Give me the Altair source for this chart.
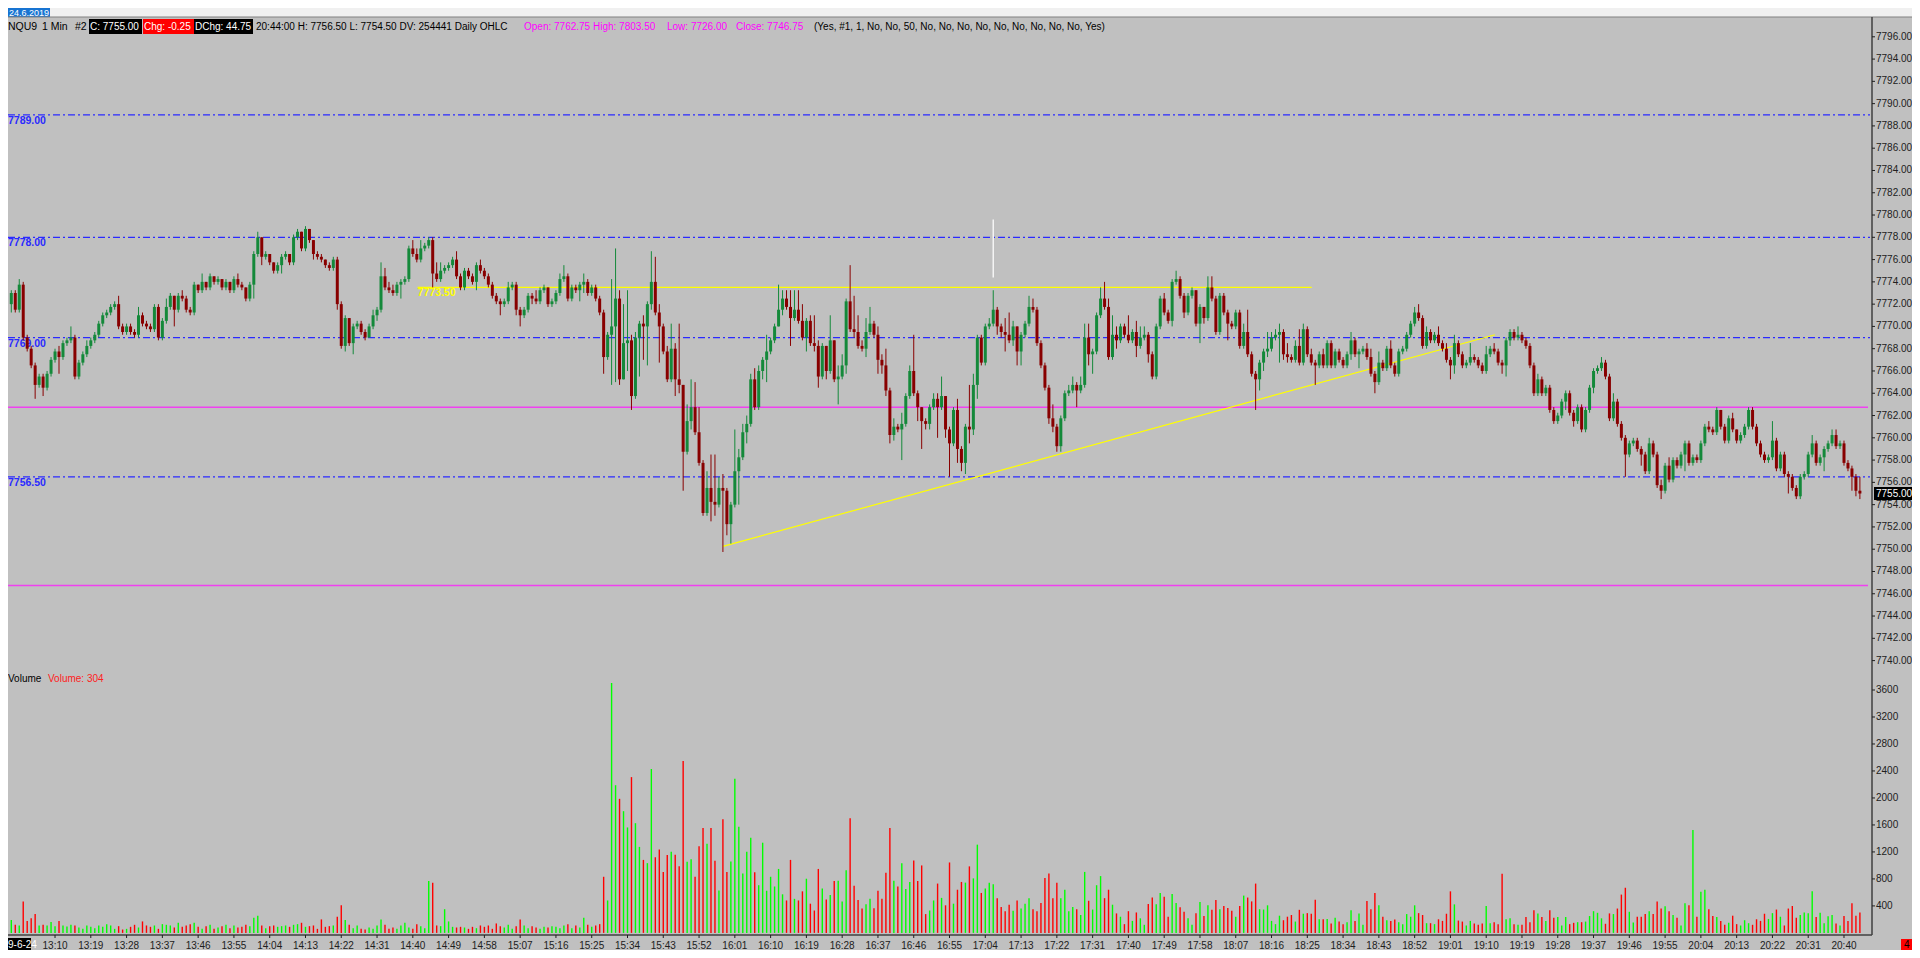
import altair as alt
import pandas as pd

# ---------------- data (NQU9, 1 min bars, 12:59 .. 20:44) ----------------
first_open = 7772.0

closes = [
    7773.0, 7771.5, 7773.75, 7769.0, 7768.0, 7766.5, 7764.75, 7765.5, 7764.5, 7765.75,
    7767.0, 7767.75, 7767.25, 7768.5, 7768.75, 7769.0, 7765.5, 7766.75, 7767.5, 7768.25,
    7768.75, 7769.25, 7770.25, 7771.0, 7771.25, 7771.75, 7772.0, 7770.0, 7769.5, 7770.0,
    7769.5, 7769.25, 7771.0, 7770.25, 7770.0, 7769.75, 7771.75, 7769.0, 7770.5, 7771.75,
    7772.75, 7771.5, 7772.75, 7772.5, 7771.5, 7771.25, 7773.75, 7773.25, 7774.0, 7773.5,
    7774.5, 7774.0, 7774.25, 7773.5, 7774.0, 7773.25, 7774.25, 7773.75, 7773.5, 7772.5,
    7773.75, 7776.5, 7778.0, 7776.25, 7776.5, 7775.75, 7775.0, 7775.5, 7776.25, 7776.5,
    7775.75, 7778.0, 7778.5, 7777.0, 7778.75, 7777.75, 7776.5, 7776.25, 7776.0, 7775.5,
    7775.25, 7776.0, 7772.0, 7768.25, 7770.75, 7768.5, 7770.0, 7770.25, 7769.5, 7769.0,
    7770.0, 7771.0, 7771.5, 7774.5, 7773.5, 7773.25, 7773.0, 7773.75, 7774.0, 7774.25,
    7777.0, 7776.5, 7776.0, 7777.0, 7777.25, 7777.75, 7774.75, 7774.25, 7775.0, 7775.25,
    7775.5, 7776.0, 7774.5, 7773.5, 7775.0, 7774.5, 7774.0, 7775.5, 7775.0, 7774.5,
    7773.75, 7772.75, 7772.25, 7772.0, 7772.25, 7773.5, 7773.75, 7771.5, 7771.0, 7771.5,
    7772.75, 7772.5, 7772.25, 7773.25, 7773.5, 7772.0, 7772.25, 7773.0, 7774.25, 7774.5,
    7772.5, 7773.5, 7773.25, 7773.75, 7774.0, 7773.0, 7773.5, 7772.5, 7771.25, 7767.25,
    7769.25, 7770.0, 7772.5, 7765.25, 7768.5, 7768.75, 7763.75, 7769.0, 7770.25, 7770.0,
    7772.0, 7774.0, 7771.25, 7770.0, 7767.75, 7765.25, 7768.0, 7765.25, 7764.75, 7758.75,
    7761.5, 7762.75, 7760.5, 7757.75, 7753.25, 7755.5, 7754.25, 7754.0, 7755.5, 7755.25,
    7752.25, 7754.0, 7757.0, 7758.25, 7760.5, 7761.25, 7765.25, 7762.75, 7766.0, 7767.0,
    7767.75, 7768.75, 7770.0, 7771.5, 7772.5, 7771.75, 7770.75, 7771.5, 7770.5, 7769.0,
    7770.5, 7768.5, 7768.25, 7765.5, 7768.25, 7766.0, 7768.75, 7765.25, 7765.5, 7766.5,
    7772.25, 7769.75, 7769.5, 7768.25, 7768.0, 7769.5, 7770.25, 7769.25, 7767.0, 7766.5,
    7764.25, 7760.25, 7761.0, 7760.75, 7761.25, 7763.75, 7766.0, 7764.0, 7762.75, 7761.5,
    7761.25, 7762.75, 7763.5, 7762.75, 7763.75, 7760.75, 7759.5, 7762.5, 7759.0, 7757.75,
    7761.0, 7760.75, 7764.75, 7769.0, 7766.75, 7770.0, 7770.25, 7771.5, 7770.0, 7769.5,
    7769.25, 7768.75, 7770.0, 7767.75, 7769.25, 7770.25, 7771.75, 7771.5, 7768.5, 7766.5,
    7764.5, 7761.75, 7761.0, 7759.25, 7761.75, 7764.0, 7764.25, 7764.75, 7764.25, 7764.75,
    7769.0, 7767.5, 7767.75, 7771.0, 7772.5, 7771.75, 7767.25, 7769.25, 7768.75, 7770.0,
    7769.25, 7768.75, 7769.5, 7768.25, 7769.0, 7769.25, 7767.5, 7765.5, 7770.0, 7772.5,
    7771.25, 7770.5, 7774.0, 7774.25, 7772.75, 7771.25, 7772.75, 7773.25, 7770.25, 7771.75,
    7770.75, 7773.5, 7772.5, 7769.5, 7772.75, 7771.25, 7770.25, 7770.0, 7771.25, 7768.25,
    7769.5, 7767.5, 7765.75, 7765.25, 7766.75, 7767.75, 7768.0, 7769.0, 7769.25, 7769.5,
    7767.5, 7767.25, 7767.0, 7768.25, 7766.75, 7769.75, 7767.5, 7766.75, 7766.5, 7767.5,
    7766.5, 7768.5, 7766.5, 7767.75, 7767.0, 7766.5, 7767.5, 7768.75, 7767.5, 7767.75,
    7768.0, 7767.25, 7765.75, 7765.0, 7766.75, 7766.25, 7768.0, 7766.5, 7765.75, 7767.75,
    7768.0, 7769.25, 7770.25, 7771.25, 7770.75, 7768.25, 7769.5, 7768.75, 7769.25, 7768.5,
    7768.0, 7767.0, 7766.5, 7768.5, 7767.5, 7766.5, 7766.75, 7767.25, 7767.0, 7766.5,
    7766.0, 7767.5, 7768.0, 7767.75, 7766.75, 7766.5, 7768.75, 7769.5, 7769.0, 7769.25,
    7768.75, 7768.25, 7766.5, 7764.0, 7765.25, 7764.0, 7764.5, 7762.5, 7761.5, 7762.0,
    7763.25, 7764.0, 7762.25, 7761.5, 7762.75, 7760.75, 7762.5, 7764.5, 7766.0, 7766.25,
    7766.75, 7765.5, 7761.75, 7763.25, 7761.25, 7760.0, 7758.5, 7759.5, 7759.75, 7759.0,
    7758.5, 7757.0, 7759.5, 7758.5, 7755.75, 7755.25, 7757.5, 7756.25, 7758.0, 7757.5,
    7758.5, 7759.5, 7757.75, 7758.25, 7758.0, 7759.5, 7761.0, 7760.75, 7760.5, 7762.5,
    7761.0, 7759.75, 7761.75, 7760.75, 7759.75, 7760.25, 7761.0, 7762.5, 7761.0, 7759.5,
    7758.5, 7758.0, 7758.25, 7759.75, 7757.25, 7758.5, 7756.75, 7756.5, 7755.5, 7754.75,
    7756.5, 7756.75, 7758.5, 7759.5, 7757.75, 7758.25, 7759.0, 7759.5, 7760.25, 7759.25,
    7759.5, 7757.75, 7757.25, 7756.5, 7755.25, 7755.0,
]

highs = [
    7773.25, 7773.25, 7774.25, 7774.0, 7769.25, 7768.25, 7766.75, 7765.75, 7765.75, 7766.0,
    7767.25, 7768.0, 7768.25, 7768.75, 7769.0, 7770.0, 7769.25, 7767.0, 7767.75, 7768.75,
    7769.0, 7769.5, 7770.5, 7771.25, 7771.5, 7772.0, 7772.25, 7772.75, 7770.25, 7770.25,
    7770.25, 7769.75, 7771.75, 7771.25, 7770.5, 7770.25, 7772.0, 7772.0, 7770.75, 7772.5,
    7773.0, 7772.75, 7773.0, 7773.25, 7772.75, 7771.75, 7774.0, 7773.75, 7774.75, 7774.0,
    7774.75, 7774.5, 7774.5, 7774.25, 7774.25, 7774.0, 7774.5, 7774.75, 7774.0, 7773.5,
    7774.0, 7776.75, 7778.5, 7777.5, 7776.75, 7776.5, 7775.75, 7775.75, 7776.5, 7776.75,
    7776.5, 7778.25, 7778.75, 7778.5, 7779.0, 7778.75, 7777.75, 7776.75, 7776.5, 7776.0,
    7775.75, 7776.25, 7776.25, 7772.25, 7771.0, 7770.75, 7770.25, 7770.5, 7770.5, 7769.75,
    7770.25, 7771.5, 7771.75, 7775.75, 7775.25, 7774.0, 7773.75, 7774.0, 7774.25, 7774.5,
    7777.25, 7777.75, 7777.0, 7777.75, 7777.5, 7778.0, 7778.0, 7775.75, 7775.75, 7775.5,
    7775.75, 7776.25, 7776.75, 7774.75, 7775.25, 7775.25, 7774.75, 7775.75, 7776.0, 7775.25,
    7774.75, 7774.0, 7773.0, 7772.5, 7772.5, 7774.0, 7774.0, 7774.0, 7771.75, 7771.75,
    7773.0, 7773.0, 7773.25, 7773.5, 7773.75, 7773.5, 7772.5, 7773.25, 7774.75, 7775.5,
    7774.75, 7773.75, 7773.75, 7774.0, 7774.75, 7774.25, 7773.75, 7773.75, 7772.75, 7771.5,
    7769.5, 7774.25, 7777.0, 7773.25, 7772.0, 7773.25, 7769.25, 7769.5, 7770.5, 7771.0,
    7772.25, 7776.75, 7776.25, 7772.0, 7770.25, 7768.25, 7770.25, 7768.5, 7770.25, 7764.75,
    7763.0, 7765.25, 7765.0, 7762.75, 7758.0, 7757.0, 7758.5, 7758.5, 7756.5, 7756.75,
    7755.5, 7754.25, 7760.75, 7759.0, 7761.25, 7762.0, 7765.75, 7766.25, 7766.5, 7767.25,
    7769.25, 7769.0, 7770.25, 7773.75, 7773.25, 7773.25, 7773.25, 7773.25, 7773.25, 7772.0,
    7770.75, 7771.0, 7771.0, 7768.75, 7768.5, 7767.5, 7771.0, 7768.75, 7766.5, 7767.5,
    7772.5, 7775.5, 7772.75, 7771.0, 7768.75, 7770.75, 7771.75, 7770.5, 7770.0, 7767.5,
    7768.0, 7764.5, 7761.75, 7761.25, 7762.25, 7764.0, 7766.5, 7769.25, 7764.25, 7762.75,
    7761.75, 7763.0, 7764.0, 7764.0, 7765.5, 7763.75, 7761.0, 7762.75, 7763.5, 7759.25,
    7761.25, 7764.75, 7765.75, 7769.25, 7769.25, 7770.25, 7770.75, 7773.25, 7771.75, 7770.25,
    7770.75, 7771.25, 7770.5, 7770.0, 7769.5, 7770.5, 7772.75, 7772.5, 7771.75, 7768.75,
    7766.75, 7764.75, 7763.0, 7761.25, 7762.0, 7764.25, 7764.75, 7765.5, 7765.0, 7765.5,
    7770.25, 7770.25, 7768.0, 7771.25, 7773.5, 7774.0, 7772.5, 7771.0, 7770.0, 7770.25,
    7770.25, 7771.0, 7769.75, 7770.5, 7770.0, 7770.0, 7769.5, 7767.75, 7770.25, 7772.75,
    7773.0, 7771.5, 7774.25, 7775.0, 7774.5, 7773.0, 7773.0, 7773.5, 7773.25, 7772.0,
    7771.75, 7774.5, 7774.5, 7772.75, 7773.0, 7773.0, 7771.5, 7770.5, 7771.5, 7771.5,
    7770.25, 7771.5, 7767.75, 7766.0, 7767.0, 7768.0, 7769.5, 7769.5, 7769.75, 7770.25,
    7769.75, 7768.5, 7767.5, 7768.75, 7769.75, 7770.25, 7770.0, 7768.0, 7767.0, 7767.75,
    7768.0, 7768.75, 7768.75, 7768.0, 7768.0, 7767.25, 7767.75, 7769.5, 7769.0, 7768.0,
    7768.25, 7768.5, 7768.0, 7766.0, 7767.75, 7767.0, 7768.25, 7768.75, 7766.75, 7768.0,
    7768.25, 7769.5, 7770.5, 7771.75, 7772.0, 7771.0, 7770.0, 7769.75, 7769.5, 7770.0,
    7768.75, 7768.5, 7767.25, 7769.25, 7768.75, 7767.75, 7767.0, 7768.5, 7767.5, 7767.25,
    7766.75, 7768.25, 7768.25, 7768.5, 7768.0, 7767.0, 7769.0, 7769.75, 7769.75, 7770.0,
    7769.5, 7769.0, 7768.5, 7766.75, 7765.75, 7765.5, 7764.75, 7764.75, 7762.75, 7762.25,
    7763.5, 7764.25, 7764.25, 7762.5, 7763.0, 7763.0, 7762.75, 7764.75, 7766.25, 7766.5,
    7767.25, 7767.0, 7765.75, 7764.0, 7763.5, 7761.5, 7760.25, 7759.75, 7760.0, 7760.0,
    7759.25, 7758.75, 7760.0, 7759.75, 7758.75, 7756.25, 7757.75, 7758.25, 7758.25, 7758.25,
    7758.75, 7759.75, 7759.75, 7758.5, 7758.5, 7759.75, 7761.25, 7761.5, 7761.0, 7762.75,
    7762.5, 7761.25, 7762.0, 7762.25, 7760.75, 7760.5, 7761.25, 7762.75, 7762.75, 7761.25,
    7759.75, 7758.75, 7758.5, 7761.5, 7760.0, 7758.75, 7758.75, 7757.0, 7756.75, 7755.75,
    7756.75, 7757.0, 7758.75, 7760.25, 7759.75, 7758.5, 7759.25, 7759.75, 7760.75, 7760.75,
    7759.75, 7759.75, 7758.0, 7757.5, 7756.75, 7756.5,
]

lows = [
    7771.25, 7771.25, 7771.25, 7768.75, 7767.75, 7766.25, 7763.5, 7764.5, 7763.75, 7764.25,
    7765.5, 7766.75, 7765.75, 7767.0, 7768.25, 7768.5, 7765.25, 7765.25, 7766.5, 7767.25,
    7768.0, 7768.5, 7769.0, 7770.0, 7770.75, 7771.0, 7771.5, 7769.75, 7769.25, 7769.25,
    7769.25, 7769.0, 7769.0, 7770.0, 7769.75, 7769.5, 7769.5, 7768.75, 7768.75, 7770.25,
    7771.5, 7770.0, 7771.25, 7772.25, 7771.25, 7771.0, 7771.0, 7773.0, 7773.0, 7773.25,
    7773.25, 7773.75, 7773.75, 7773.25, 7773.25, 7773.0, 7773.0, 7773.5, 7773.25, 7772.25,
    7772.25, 7772.5, 7776.25, 7775.5, 7776.0, 7775.5, 7774.75, 7774.75, 7774.75, 7776.0,
    7775.5, 7775.5, 7777.75, 7776.75, 7776.75, 7777.5, 7776.0, 7776.0, 7775.75, 7775.25,
    7775.0, 7775.0, 7771.5, 7768.0, 7767.75, 7768.25, 7767.5, 7769.75, 7769.25, 7768.75,
    7769.0, 7769.75, 7770.5, 7771.25, 7773.25, 7773.0, 7772.75, 7772.75, 7772.5, 7773.75,
    7774.0, 7776.25, 7775.75, 7775.75, 7776.75, 7777.0, 7773.5, 7774.0, 7774.0, 7774.75,
    7775.0, 7775.25, 7774.25, 7773.25, 7773.25, 7774.25, 7773.75, 7773.25, 7774.75, 7774.25,
    7773.5, 7772.5, 7772.0, 7771.0, 7771.75, 7772.0, 7773.25, 7771.0, 7770.0, 7770.75,
    7771.25, 7772.0, 7772.0, 7772.0, 7773.0, 7771.75, 7771.75, 7772.0, 7772.75, 7774.0,
    7772.25, 7772.25, 7773.0, 7772.25, 7773.0, 7772.75, 7772.75, 7772.25, 7771.0, 7765.75,
    7767.0, 7764.75, 7765.0, 7764.75, 7765.25, 7766.0, 7762.5, 7763.5, 7765.5, 7767.0,
    7766.5, 7771.5, 7771.0, 7766.75, 7767.5, 7765.0, 7765.0, 7763.75, 7764.0, 7755.25,
    7758.5, 7760.75, 7760.25, 7757.5, 7753.0, 7753.0, 7752.5, 7753.0, 7753.75, 7749.75,
    7751.25, 7750.5, 7753.75, 7754.0, 7758.0, 7759.5, 7761.0, 7762.5, 7762.5, 7765.25,
    7765.0, 7767.5, 7768.5, 7770.0, 7771.0, 7771.5, 7768.25, 7770.5, 7770.25, 7768.75,
    7767.75, 7768.25, 7767.75, 7764.5, 7765.25, 7765.25, 7765.75, 7765.0, 7763.0, 7765.25,
    7765.75, 7769.5, 7769.0, 7768.0, 7767.75, 7767.25, 7769.25, 7769.0, 7765.75, 7765.75,
    7763.75, 7759.5, 7759.75, 7760.5, 7758.0, 7761.0, 7763.5, 7763.75, 7761.5, 7759.0,
    7760.75, 7760.75, 7762.5, 7760.0, 7762.5, 7760.0, 7756.5, 7759.25, 7757.75, 7757.0,
    7756.75, 7759.5, 7760.25, 7763.5, 7766.5, 7766.5, 7769.75, 7770.0, 7769.25, 7769.0,
    7767.75, 7768.5, 7768.25, 7766.5, 7766.5, 7769.0, 7770.0, 7771.25, 7768.25, 7766.25,
    7764.25, 7761.25, 7760.5, 7758.75, 7758.75, 7761.5, 7763.75, 7764.0, 7762.75, 7764.0,
    7764.5, 7766.5, 7765.75, 7767.5, 7770.75, 7771.5, 7767.0, 7767.0, 7768.0, 7768.5,
    7769.0, 7768.5, 7768.5, 7767.25, 7768.0, 7768.75, 7766.75, 7765.25, 7765.25, 7769.75,
    7771.0, 7770.25, 7770.0, 7773.75, 7772.5, 7770.75, 7771.0, 7772.5, 7770.0, 7768.5,
    7770.25, 7770.5, 7772.25, 7769.25, 7769.25, 7771.0, 7768.75, 7769.75, 7769.75, 7768.0,
    7768.0, 7767.25, 7765.5, 7762.5, 7764.25, 7766.0, 7767.25, 7767.75, 7768.75, 7766.75,
    7767.0, 7766.75, 7766.75, 7766.75, 7766.5, 7766.5, 7767.25, 7766.5, 7764.75, 7766.25,
    7766.25, 7766.25, 7766.25, 7766.25, 7766.75, 7766.25, 7766.25, 7767.0, 7767.25, 7766.25,
    7767.5, 7767.0, 7765.5, 7764.0, 7764.75, 7766.0, 7766.0, 7766.25, 7765.5, 7765.5,
    7767.5, 7767.75, 7769.0, 7770.0, 7770.5, 7768.0, 7768.0, 7768.5, 7768.5, 7768.25,
    7767.75, 7766.75, 7765.25, 7765.75, 7767.25, 7766.25, 7766.25, 7766.5, 7766.75, 7766.25,
    7765.75, 7765.75, 7767.25, 7767.5, 7766.5, 7765.75, 7765.5, 7768.25, 7768.75, 7768.75,
    7768.5, 7768.0, 7766.25, 7763.75, 7763.75, 7763.75, 7763.75, 7762.25, 7761.25, 7761.25,
    7761.75, 7762.5, 7762.0, 7761.0, 7761.25, 7760.5, 7760.5, 7762.25, 7764.0, 7765.75,
    7766.0, 7765.25, 7761.5, 7761.5, 7761.0, 7759.75, 7756.5, 7758.25, 7759.25, 7758.75,
    7757.5, 7756.75, 7756.75, 7758.25, 7755.5, 7754.5, 7755.0, 7756.0, 7756.0, 7757.25,
    7757.25, 7757.0, 7757.5, 7757.5, 7757.75, 7757.75, 7759.25, 7760.5, 7760.25, 7760.25,
    7760.75, 7759.5, 7759.5, 7760.5, 7759.5, 7759.5, 7760.0, 7760.75, 7760.75, 7759.25,
    7758.25, 7757.75, 7757.75, 7758.0, 7757.0, 7757.0, 7756.5, 7755.0, 7755.25, 7754.5,
    7754.5, 7756.25, 7756.5, 7758.25, 7757.5, 7757.5, 7757.0, 7758.75, 7759.25, 7759.0,
    7759.0, 7757.5, 7757.0, 7755.25, 7754.75, 7754.5,
]

volumes = [
    190, 120, 110, 467, 178, 216, 280, 110, 120, 110,
    160, 100, 178, 110, 96, 120, 110, 80, 60, 110,
    90, 70, 110, 90, 130, 110, 60, 100, 50, 60,
    90, 120, 80, 170, 110, 90, 110, 60, 130, 120,
    110, 80, 150, 90, 110, 130, 150, 90, 60, 100,
    120, 60, 80, 100, 120, 70, 110, 80, 90, 120,
    100, 226, 255, 110, 70, 100, 110, 90, 100, 110,
    90, 120, 130, 150, 90, 100, 110, 60, 200, 90,
    100, 110, 240, 409, 190, 120, 70, 110, 60, 50,
    80, 60, 110, 200, 120, 60, 80, 60, 110, 150,
    80, 60, 130, 100, 70, 770, 745, 110, 100, 351,
    170, 90, 80, 90, 80, 60, 90, 70, 110, 90,
    110, 60, 140, 100, 80, 120, 60, 100, 200, 110,
    70, 100, 80, 60, 90, 80, 100, 90, 70, 110,
    130, 70, 110, 80, 226, 120, 90, 110, 130,
    832, 481, 3704, 2189, 1987, 1804, 1563, 2309, 1626, 1275,
    1082, 1034, 2429, 1121, 1236, 904, 1154, 1203, 1159, 986,
    2549, 1053, 1092, 832, 1284, 1554, 1323, 1554, 1068, 630,
    1684, 904, 1058, 2285, 1573, 880, 1203, 1409, 900, 707,
    1337, 625, 832, 688, 948, 572, 481, 1082, 505, 481,
    616, 803, 433, 332, 948, 659, 495, 563, 770, 774,
    467, 928, 1698, 697, 486, 361, 423, 505, 366, 625,
    505, 890, 1554, 774, 688, 1034, 649, 755, 1073, 770,
    1000, 279, 332, 481, 731,
    519, 409, 1044, 433, 640, 755, 745, 986, 808, 1308,
    592, 659, 745, 722, 515, 385, 322, 418, 327, 481,
    361, 433, 515, 351, 322, 443, 813, 880, 515, 745,
    515, 640, 322, 385, 351, 265, 904, 476, 346, 707,
    842, 515, 640, 418, 289, 240, 130, 322, 178, 303,
    216, 120, 428, 524, 423, 592, 534, 240, 577, 443,
    380, 313, 216, 120, 293, 457, 250, 409, 342, 486,
    351, 399, 370, 327, 240, 399, 553, 524, 467, 731,
    351, 346, 409, 178, 130, 255, 188, 240, 265, 168,
    342, 284, 293, 284, 491, 202, 202, 207, 140, 226,
    168, 130, 159, 337, 178, 289, 120, 471, 351, 592,
    409, 240, 188, 178, 197, 159, 130, 279, 240, 409,
    293, 265, 144, 144, 130, 202, 178, 284, 616, 423,
    183, 168, 110, 178, 140, 120, 140, 399, 144, 159,
    130, 875, 202, 216, 130, 120, 120, 236, 159, 337,
    289, 236, 178, 337, 226, 236, 110, 236, 130, 149,
    159, 159, 168, 250, 322, 298, 216, 135, 289, 279,
    361, 568, 669, 313, 154, 240, 240, 279, 322, 279,
    467, 361, 394, 322, 265, 226, 110, 438, 409, 1525,
    240, 611, 640, 351, 250, 236, 178, 120, 149, 255,
    130, 110, 188, 144, 120, 202, 178, 284, 207, 293,
    346, 240, 110, 361, 399, 226, 265, 303, 293, 616,
    236, 298, 144, 245, 265, 140, 110, 250, 178, 438,
    255, 304,
]

session_start = "12:59"
time_labels = [
    "13:10", "13:19", "13:28", "13:37", "13:46", "13:55", "14:04", "14:13", "14:22", "14:31",
    "14:40", "14:49", "14:58", "15:07", "15:16", "15:25", "15:34", "15:43", "15:52", "16:01",
    "16:10", "16:19", "16:28", "16:37", "16:46", "16:55", "17:04", "17:13", "17:22", "17:31",
    "17:40", "17:49", "17:58", "18:07", "18:16", "18:25", "18:34", "18:43", "18:52", "19:01",
    "19:10", "19:19", "19:28", "19:37", "19:46", "19:55", "20:04", "20:13", "20:22", "20:31",
    "20:40",
]

price_ticks = [7740, 7742, 7744, 7746, 7748, 7750, 7752, 7754, 7756, 7758, 7760, 7762, 7764,
               7766, 7768, 7770, 7772, 7774, 7776, 7778, 7780, 7782, 7784, 7786, 7788, 7790,
               7792, 7794, 7796]
volume_ticks = [400, 800, 1200, 1600, 2000, 2400, 2800, 3200, 3600]

blue_levels = [7789.0, 7778.0, 7769.0, 7756.5]
magenta_levels = [7762.75, 7746.75]
yellow_level = 7773.5
yellow_from_bar, yellow_to_bar = 102.2, 327.1
trend_bars = [179.0, 373.2]
trend_prices = [7750.25, 7769.25]
marker_bar, marker_lo, marker_hi = 247.0, 7774.4, 7779.6
last_price = 7755.0

# ---------------- layout helpers ----------------
FONT = "Liberation Sans"
W, H = 1904, 942
AXIS_X = 1864
UP_C, DN_C = "#14893a", "#880000"
VUP_C, VDN_C = "#00ff00", "#ff0000"
BLUE = "#2a2aff"

n = min(len(closes), len(highs), len(lows), len(volumes))
cl = closes[:n]
op = [first_open] + cl[:-1]
hi = [max(h, o, c) for h, o, c in zip(highs[:n], op, cl)]
lo = [min(l, o, c) for l, o, c in zip(lows[:n], op, cl)]
up = [c >= o for o, c in zip(op, cl)]
df = pd.DataFrame({
    "i": list(range(n)), "o": op, "h": hi, "l": lo, "c": cl,
    "v": volumes[:n], "zero": [0] * n,
    "cc": [UP_C if u else DN_C for u in up],
    "vc": [VUP_C if u else VDN_C for u in up],
})

x_scale = alt.Scale(domain=[0, 465], range=[-1.7, 1856.9], nice=False, zero=False)
p_scale = alt.Scale(domain=[7740, 7796], range=[652.6, 28.8], nice=False, zero=False)
v_scale = alt.Scale(domain=[0, 3600], range=[924.9, 682.0], nice=False, zero=False)
X = alt.X("i:Q", scale=x_scale, axis=None)


def one():
    return pd.DataFrame({"t": [""]})


def txt(s, x, y, color="black", size=10.5, weight="normal", align="left", baseline="middle"):
    return alt.Chart(pd.DataFrame({"t": [s]})).mark_text(
        align=align, baseline=baseline, color=color, fontSize=size, font=FONT, fontWeight=weight
    ).encode(x=alt.value(x), y=alt.value(y), text="t:N")


def box(x1, x2, y1, y2, color):
    return alt.Chart(one()).mark_rect(color=color).encode(
        x=alt.value(x1), x2=alt.value(x2), y=alt.value(y1), y2=alt.value(y2))


def line(x1, x2, y1, y2, color, width=1.0):
    return alt.Chart(one()).mark_rule(color=color, strokeWidth=width).encode(
        x=alt.value(x1), x2=alt.value(x2), y=alt.value(y1), y2=alt.value(y2))


layers = []

# top strip and header row
layers.append(box(0, W, 0, 9, "#f0f0f0"))
layers.append(box(0, 42, 0, 9, "#1874d2"))
layers.append(txt("24.6.2019", 1, 5, color="white", size=9))
layers.append(line(0, W, 9, 9, "#808080", 1))
HY = 18.5
layers.append(txt("NQU9", 0, HY))
layers.append(txt("1 Min", 34, HY))
layers.append(txt("#2", 67, HY))
layers.append(box(81, 134, 11, 26, "black"))
layers.append(txt("C: 7755.00", 82, HY, color="white", size=10))
layers.append(box(135, 186, 11, 26, "#ff0000"))
layers.append(txt("Chg: -0.25", 136, HY, color="white", size=10))
layers.append(box(186, 245, 11, 26, "black"))
layers.append(txt("DChg: 44.75", 187, HY, color="white", size=10))
layers.append(txt("20:44:00 H: 7756.50 L: 7754.50 DV: 254441 Daily OHLC", 248, HY, size=10))
layers.append(txt("Open: 7762.75", 516, HY, color="#ff00ff", size=10))
layers.append(txt("High: 7803.50", 585, HY, color="#ff00ff", size=10))
layers.append(txt("Low: 7726.00", 659, HY, color="#ff00ff", size=10))
layers.append(txt("Close: 7746.75", 728, HY, color="#ff00ff", size=10))
layers.append(txt("(Yes, #1, 1, No, No, 50, No, No, No, No, No, No, No, No, No, Yes)", 806, HY, size=10))

# horizontal reference levels
blue_df = pd.DataFrame({"p": blue_levels, "lab": [f"{p:.2f}" for p in blue_levels]})
layers.append(alt.Chart(blue_df).mark_rule(color=BLUE, strokeWidth=1.3, strokeDash=[7, 3, 2, 3]).encode(
    y=alt.Y("p:Q", scale=p_scale, axis=None), x=alt.value(0), x2=alt.value(1862)))
layers.append(alt.Chart(blue_df).mark_text(align="left", baseline="top", dy=1, color=BLUE,
                                           fontSize=10.5, font=FONT, fontWeight="bold").encode(
    y=alt.Y("p:Q", scale=p_scale, axis=None), x=alt.value(0), text="lab:N"))

mag_df = pd.DataFrame({"p": magenta_levels})
layers.append(alt.Chart(mag_df).mark_rule(color="#f040f0", strokeWidth=1.5).encode(
    y=alt.Y("p:Q", scale=p_scale, axis=None), x=alt.value(0), x2=alt.value(1860)))

yel_df = pd.DataFrame({"a": [yellow_from_bar], "b": [yellow_to_bar], "p": [yellow_level],
                       "lab": [f"{yellow_level:.2f}"]})
layers.append(alt.Chart(yel_df).mark_rule(color="#ffff00", strokeWidth=1.2).encode(
    x=alt.X("a:Q", scale=x_scale, axis=None), x2="b:Q", y=alt.Y("p:Q", scale=p_scale, axis=None)))
layers.append(alt.Chart(yel_df).mark_text(align="left", baseline="top", dy=1, color="#ffff00",
                                          fontSize=10.5, font=FONT, fontWeight="bold").encode(
    x=alt.X("a:Q", scale=x_scale, axis=None), y=alt.Y("p:Q", scale=p_scale, axis=None), text="lab:N"))

trend_df = pd.DataFrame({"a": [trend_bars[0]], "b": [trend_bars[1]],
                         "p1": [trend_prices[0]], "p2": [trend_prices[1]]})
layers.append(alt.Chart(trend_df).mark_rule(color="#ffff00", strokeWidth=1.2).encode(
    x=alt.X("a:Q", scale=x_scale, axis=None), x2="b:Q",
    y=alt.Y("p1:Q", scale=p_scale, axis=None), y2="p2:Q"))

mk_df = pd.DataFrame({"a": [marker_bar], "p1": [marker_lo], "p2": [marker_hi]})
layers.append(alt.Chart(mk_df).mark_rule(color="#f4f4f4", strokeWidth=1.5).encode(
    x=alt.X("a:Q", scale=x_scale, axis=None),
    y=alt.Y("p1:Q", scale=p_scale, axis=None), y2="p2:Q"))

# candles
layers.append(alt.Chart(df).mark_rule(strokeWidth=1).encode(
    x=X, y=alt.Y("l:Q", scale=p_scale, axis=None), y2="h:Q",
    color=alt.Color("cc:N", scale=None, legend=None)))
layers.append(alt.Chart(df).mark_bar(size=3).encode(
    x=X, y=alt.Y("o:Q", scale=p_scale, axis=None), y2="c:Q",
    color=alt.Color("cc:N", scale=None, legend=None)))

# volume
layers.append(alt.Chart(df).mark_rule(strokeWidth=1.4).encode(
    x=X, y=alt.Y("v:Q", scale=v_scale, axis=None), y2="zero:Q",
    color=alt.Color("vc:N", scale=None, legend=None)))
layers.append(txt("Volume", 0, 670.6, size=10))
layers.append(txt("Volume: 304", 40, 670.6, color="#ff2020", size=10))

# right axis
layers.append(line(AXIS_X, AXIS_X, 9, 927, "#404040", 1.5))
pt_df = pd.DataFrame({"p": price_ticks, "lab": [f"{p:.2f}" for p in price_ticks]})
layers.append(alt.Chart(pt_df).mark_rule(color="#202020").encode(
    y=alt.Y("p:Q", scale=p_scale, axis=None), x=alt.value(AXIS_X), x2=alt.value(AXIS_X + 3)))
layers.append(alt.Chart(pt_df).mark_text(align="left", baseline="middle", fontSize=10, font=FONT,
                                         color="#202020").encode(
    y=alt.Y("p:Q", scale=p_scale, axis=None), x=alt.value(AXIS_X + 4), text="lab:N"))
vt_df = pd.DataFrame({"v": volume_ticks, "lab": [str(v) for v in volume_ticks]})
layers.append(alt.Chart(vt_df).mark_rule(color="#202020").encode(
    y=alt.Y("v:Q", scale=v_scale, axis=None), x=alt.value(AXIS_X), x2=alt.value(AXIS_X + 3)))
layers.append(alt.Chart(vt_df).mark_text(align="left", baseline="middle", fontSize=10, font=FONT,
                                         color="#202020").encode(
    y=alt.Y("v:Q", scale=v_scale, axis=None), x=alt.value(AXIS_X + 4), text="lab:N"))
lp_df = pd.DataFrame({"p": [last_price], "lab": [f"{last_price:.2f}"]})
layers.append(alt.Chart(lp_df).mark_rule(color="black", strokeWidth=13).encode(
    y=alt.Y("p:Q", scale=p_scale, axis=None), x=alt.value(AXIS_X + 2), x2=alt.value(W)))
layers.append(alt.Chart(lp_df).mark_text(align="left", baseline="middle", fontSize=10, font=FONT,
                                         color="white").encode(
    y=alt.Y("p:Q", scale=p_scale, axis=None), x=alt.value(AXIS_X + 4), text="lab:N"))

# time axis
h0, m0 = map(int, session_start.split(":"))
bar_of = [(int(t[:2]) * 60 + int(t[3:])) - (h0 * 60 + m0) for t in time_labels]
tl_df = pd.DataFrame({"i": bar_of, "lab": time_labels})
layers.append(line(0, AXIS_X, 927, 927, "#404040", 1.5))
layers.append(alt.Chart(tl_df).mark_rule(color="#202020").encode(
    x=X, y=alt.value(927), y2=alt.value(930)))
layers.append(alt.Chart(tl_df).mark_text(align="center", baseline="middle", fontSize=10, font=FONT,
                                         color="#202020").encode(
    x=X, y=alt.value(937.5), text="lab:N"))
layers.append(box(0, 23, 930, 942, "black"))
layers.append(txt("9-6-24", 0, 936.5, color="white", size=10))
layers.append(box(1893, W, 931, 942, "#ff0000"))
layers.append(txt("4", 1896, 936.5, size=10))

chart = alt.layer(*layers).resolve_scale(y="independent", color="independent").properties(
    width=W, height=H, padding=0,
    autosize=alt.AutoSizeParams(type="none"),
    background="#c0c0c0",
).configure_view(stroke=None)

chart.save("out.html", embed_options={"renderer": "svg", "actions": False})
